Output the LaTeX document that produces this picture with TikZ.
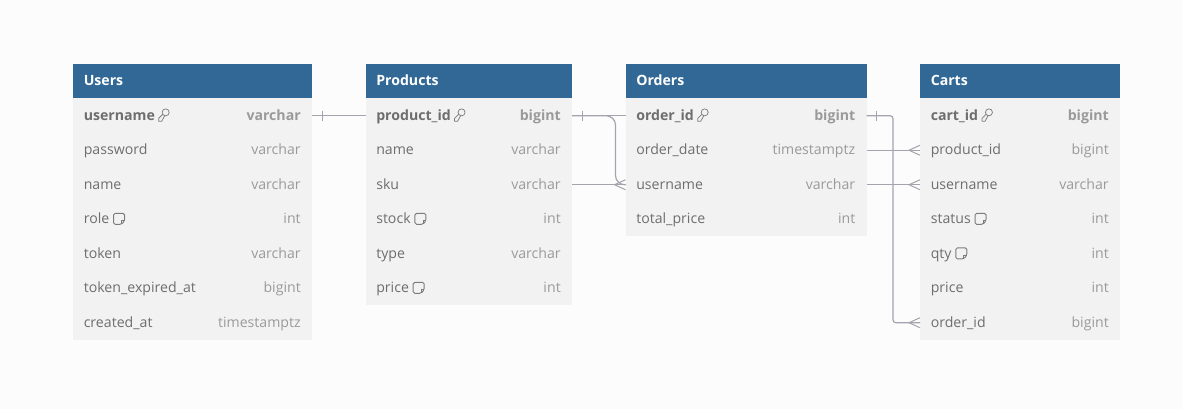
\documentclass[tikz,border=0pt]{standalone}
\usepackage{fontspec}
\setmainfont{Open Sans}
\definecolor{bgc}{HTML}{FCFCFC}
\definecolor{headc}{HTML}{316896}
\definecolor{rowc}{HTML}{F2F2F2}
\definecolor{namec}{HTML}{6E6E6E}
\definecolor{typec}{HTML}{9A9A9A}
\definecolor{linec}{HTML}{A3A4AD}
\definecolor{iconc}{HTML}{7C7C7C}
\newcommand{\tfont}{\fontsize{10.6pt}{12pt}\selectfont}
\tikzset{
  headbox/.style={fill=headc,draw=none,inner sep=0pt,outer sep=0pt,minimum height=34.5*0.75pt,anchor=north west},
  rowbox/.style={fill=rowc,draw=none,inner sep=0pt,outer sep=0pt,minimum height=34.5*0.75pt,anchor=north west},
  headtext/.style={text=white,font=\tfont\bfseries,inner sep=0pt,anchor=west},
  nametext/.style={text=namec,font=\tfont,inner sep=0pt,anchor=base west},
  typetext/.style={text=typec,font=\tfont,inner sep=0pt,anchor=base east},
  conn/.style={draw=linec,line width=0.9pt},
  connmark/.style={draw=linec,line width=0.75pt},
  icon/.style={draw=iconc,line width=0.55pt,line join=round}
}
% \tablehead{id}{x}{y}{width}{title}
\newcommand{\tablehead}[5]{%
  \node[headbox,minimum width=#4*0.75pt] (#1) at (#2,#3) {};
  \node[headtext] (#1title) at ([shift={(10.5,-1)}]#1.west) {#5};
}
\newcommand{\tablerow}[5]{%
  \node[rowbox,minimum width=#3*0.75pt] (#1) at (#2.south west) {};
  \node[nametext] (#1name) at ([shift={(10.5,4.6)}]#1.west) {#4};
  \node[typetext] (#1type) at ([shift={(-11,4.6)}]#1.east) {#5};
}
\newcommand{\keyrow}[5]{%
  \node[rowbox,minimum width=#3*0.75pt] (#1) at (#2.south west) {};
  \node[nametext,font=\tfont\bfseries] (#1name) at ([shift={(10.5,4.6)}]#1.west) {#4};
  \node[typetext,font=\tfont\bfseries] (#1type) at ([shift={(-11,4.6)}]#1.east) {#5};
  \draw[icon] ([shift={(10.5,-8)}]#1name.base east) circle[radius=3.5*0.75pt]
     ([shift={(7.5,-6)}]#1name.base east) -- ([shift={(3.5,-2)}]#1name.base east) -- ([shift={(3.5,1)}]#1name.base east) -- ([shift={(6.5,1)}]#1name.base east) -- ([shift={(9.5,-4.5)}]#1name.base east);
}
\newcommand{\noteicon}[1]{%
  \draw[icon,line width=0.7pt,rounded corners=1.2pt] ([shift={(4,-10.5)}]#1name.base east) -- ([shift={(15,-10.5)}]#1name.base east) -- ([shift={(15,-3)}]#1name.base east) -- ([shift={(12,0.5)}]#1name.base east) -- ([shift={(4,0.5)}]#1name.base east) -- cycle;
  \draw[icon] ([shift={(12,0.5)}]#1name.base east) -- ([shift={(12,-3)}]#1name.base east) -- ([shift={(15,-3)}]#1name.base east);
}
\newcommand{\tick}[1]{\draw[connmark] ([shift={(10,-5)}]#1.east) -- ([shift={(10,5)}]#1.east);}
\newcommand{\crow}[1]{\draw[connmark] ([shift={(0,-5)}]#1.west) -- ([shift={(-11,0)}]#1.west) -- ([shift={(0,5)}]#1.west);}
\begin{document}
\begin{tikzpicture}[x=0.75pt,y=-0.75pt]
\useasboundingbox (0,0) rectangle (1183,409);
\fill[bgc] (0,0) rectangle (1183,409);
% Users
\tablehead{u}{73}{64}{239}{Users}
\keyrow{ua}{u}{239}{username}{varchar}
\tablerow{ub}{ua}{239}{password}{varchar}
\tablerow{uc}{ub}{239}{name}{varchar}
\tablerow{ud}{uc}{239}{role}{int}
\noteicon{ud}
\tablerow{ue}{ud}{239}{token}{varchar}
\tablerow{uf}{ue}{239}{token\_expired\_at}{bigint}
\tablerow{ug}{uf}{239}{created\_at}{timestamptz}
% Products
\tablehead{p}{365.5}{64}{206.5}{Products}
\keyrow{pa}{p}{206.5}{product\_id}{bigint}
\tablerow{pb}{pa}{206.5}{name}{varchar}
\tablerow{pc}{pb}{206.5}{sku}{varchar}
\tablerow{pd}{pc}{206.5}{stock}{int}
\noteicon{pd}
\tablerow{pe}{pd}{206.5}{type}{varchar}
\tablerow{pf}{pe}{206.5}{price}{int}
\noteicon{pf}
% Orders
\tablehead{o}{625.5}{64}{241}{Orders}
\keyrow{oa}{o}{241}{order\_id}{bigint}
\tablerow{ob}{oa}{241}{order\_date}{timestamptz}
\tablerow{oc}{ob}{241}{username}{varchar}
\tablerow{od}{oc}{241}{total\_price}{int}
% Carts
\tablehead{c}{920}{64}{200}{Carts}
\keyrow{ca}{c}{200}{cart\_id}{bigint}
\tablerow{cb}{ca}{200}{product\_id}{bigint}
\tablerow{cc}{cb}{200}{username}{varchar}
\tablerow{cd}{cc}{200}{status}{int}
\noteicon{cd}
\tablerow{ce}{cd}{200}{qty}{int}
\noteicon{ce}
\tablerow{cf}{ce}{200}{price}{int}
\tablerow{cg}{cf}{200}{order\_id}{bigint}
% Connectors
\coordinate (bendp) at (615.5,150);
\coordinate (bendo) at (893,200);
\draw[conn] (ua.east) -- (pa.west);
\tick{ua}
\draw[conn] (pa.east) -- (oa.west);
\draw[conn,rounded corners=7pt] (pa.east) -- (bendp |- pa.east) -- (bendp |- oc.west) -- (oc.west);
\tick{pa}
\draw[conn] (pc.east) -- (oc.west);
\crow{oc}
\draw[conn,rounded corners=2.2pt] (oa.east) -- (bendo |- oa.east) -- (bendo |- cg.west) -- (cg.west);
\tick{oa}
\crow{cg}
\draw[conn] (ob.east) -- (cb.west);
\crow{cb}
\draw[conn] (oc.east) -- (cc.west);
\crow{cc}
\end{tikzpicture}
\end{document}
